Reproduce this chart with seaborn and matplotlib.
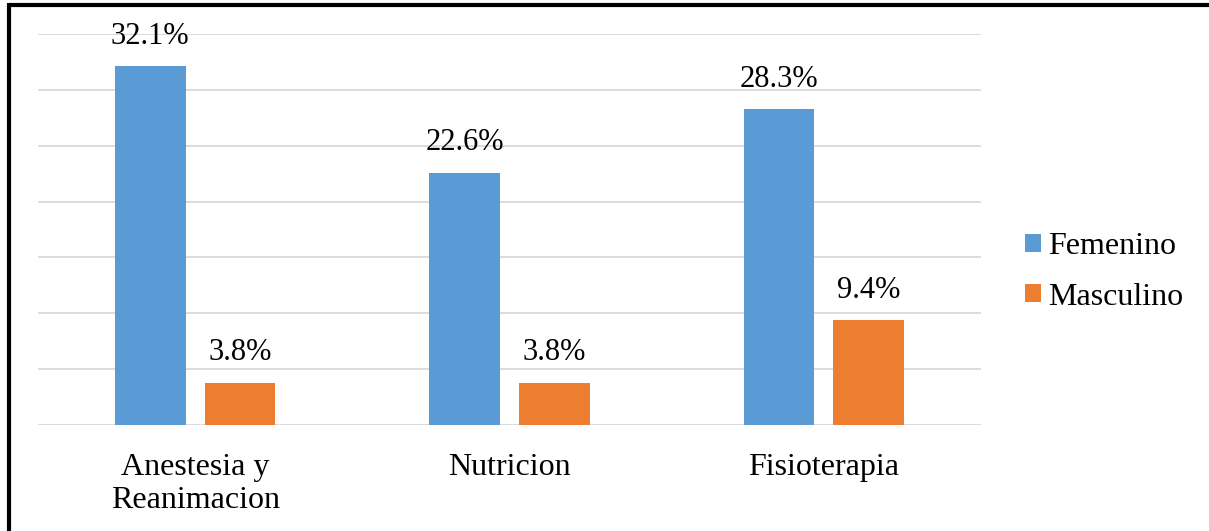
import matplotlib
matplotlib.use("Agg")
import matplotlib.pyplot as plt
import seaborn as sns
import pandas as pd
from matplotlib.lines import Line2D
from matplotlib.patches import Patch

categories = ["Anestesia y\nReanimacion", "Nutricion", "Fisioterapia"]
femenino = [32.1, 22.6, 28.3]
masculino = [3.8, 3.8, 9.4]
series = ["Femenino", "Masculino"]
colors = ["#5B9BD5", "#ED7D31"]

df = pd.DataFrame({
    "cat": categories * 2,
    "val": femenino + masculino,
    "sexo": [series[0]] * 3 + [series[1]] * 3,
})

sns.set_theme(style="white")
plt.rcParams["font.family"] = ["Liberation Serif", "DejaVu Serif"]

FS = 23
W, H = 1209, 531
fig = plt.figure(figsize=(W / 100, H / 100), dpi=100)
ax = fig.add_axes([38 / W, 1 - 425 / H, (981 - 38) / W, (425 - 34) / H])

sns.barplot(data=df, x="cat", y="val", hue="sexo", palette=colors,
            width=0.571, gap=0.211, ax=ax, legend=False, saturation=1,
            linewidth=0, edgecolor="none")

ax.set_ylim(0, 35)
ax.set_yticks(range(0, 36, 5))
ax.yaxis.grid(True, color="#D9D9D9", linewidth=1.3)
ax.set_axisbelow(True)
ax.tick_params(axis="y", left=False, labelleft=False)
ax.tick_params(axis="x", bottom=False, labelsize=FS, pad=14, colors="black")
for lbl in ax.get_xticklabels():
    lbl.set_linespacing(1.2)
ax.set_xlabel("")
ax.set_ylabel("")
for s in ax.spines.values():
    s.set_visible(False)

for cont in ax.containers:
    ax.bar_label(cont, labels=[f"{v:.1f}%" for v in cont.datavalues],
                 padding=11, fontsize=22, color="black")

handles = [Patch(facecolor=c, edgecolor="none") for c in colors]
fig.legend(handles, series, loc="center left", bbox_to_anchor=(996 / W, 1 - 272 / H),
           frameon=False, fontsize=FS, handlelength=0.5, handleheight=0.5,
           handletextpad=0.22, labelspacing=0.66, labelcolor="black")

# cropped outer frame (top and left edges)
fig.add_artist(Line2D([9 / W, 1], [1 - 5 / H, 1 - 5 / H], transform=fig.transFigure,
                      color="black", linewidth=3.0, solid_capstyle="butt"))
fig.add_artist(Line2D([9 / W, 9 / W], [0, 1 - 3 / H], transform=fig.transFigure,
                      color="black", linewidth=3.0, solid_capstyle="butt"))

fig.savefig("out.png", dpi=100, facecolor="white")
